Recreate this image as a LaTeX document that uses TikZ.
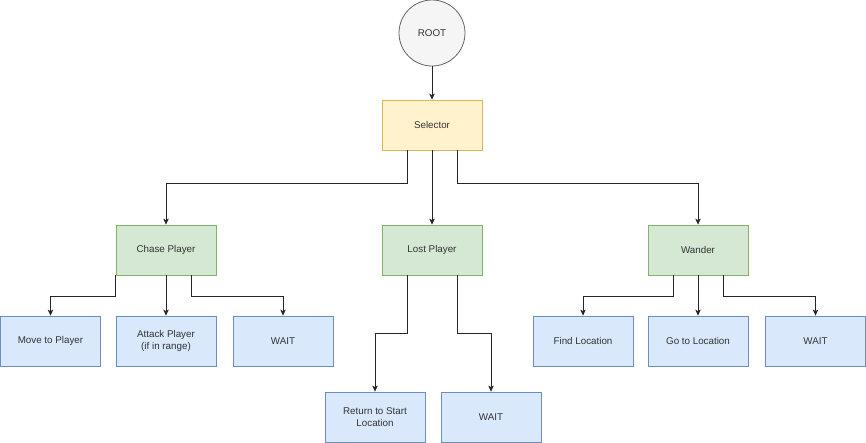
\documentclass[tikz,border=0pt]{standalone}
\usepackage{fontspec}
\setmainfont{Liberation Sans}
\usetikzlibrary{arrows.meta}

\definecolor{rootfill}{HTML}{F5F5F5}
\definecolor{rootline}{HTML}{666666}
\definecolor{selfill}{HTML}{FFF2CC}
\definecolor{selline}{HTML}{D6B656}
\definecolor{seqfill}{HTML}{D5E8D4}
\definecolor{seqline}{HTML}{82B366}
\definecolor{actfill}{HTML}{DAE8FC}
\definecolor{actline}{HTML}{6C8EBF}
\definecolor{labeltext}{HTML}{333333}

\tikzset{
  treebox/.style={draw, line width=0.8pt, minimum width=100pt, minimum height=50pt,
    inner sep=0pt, align=center, text=labeltext, font=\fontsize{9.8}{11.3}\selectfont},
  rootnode/.style={treebox, circle, minimum size=66pt, fill=rootfill, draw=rootline},
  selectorbox/.style={treebox, fill=selfill, draw=selline},
  sequencebox/.style={treebox, fill=seqfill, draw=seqline},
  actionbox/.style={treebox, fill=actfill, draw=actline},
  link/.style={draw=black!85, line width=0.8pt, -{Stealth[length=6pt,width=5.5pt,inset=1.5pt]}}
}

\begin{document}
\begin{tikzpicture}[x=1pt,y=-1pt]
\useasboundingbox (0,0) rectangle (866,442);

\node[rootnode] (root) at (432,33) {ROOT};
\node[selectorbox] (sel) at (432,125) {Selector};

\node[sequencebox] (chase) at (166,250) {Chase Player};
\node[sequencebox] (lost) at (432,250) {Lost Player};
\node[sequencebox] (wander) at (698,250) {Wander};

\node[actionbox] (move) at (50.5,341) {Move to Player};
\node[actionbox] (attack) at (166,341) {Attack Player\\(if in range)};
\node[actionbox] (waitA) at (283,341) {WAIT};

\node[actionbox] (return) at (375,417) {Return to Start\\Location};
\node[actionbox] (waitB) at (491,417) {WAIT};

\node[actionbox] (find) at (583,341) {Find Location};
\node[actionbox] (goto) at (698,341) {Go to Location};
\node[actionbox] (waitC) at (815.5,341) {WAIT};

\draw[link] (root) -- (sel);

\draw[link] ([xshift=-25pt]sel.south) -- ++(0,33) -| (chase.north);
\draw[link] (sel.south) -- (lost.north);
\draw[link] ([xshift=25pt]sel.south) -- ++(0,33) -| (wander.north);

\draw[link] (chase.south west) -- ++(0,21) -| (move.north);
\draw[link] (chase.south) -- (attack.north);
\draw[link] ([xshift=25pt]chase.south) -- ++(0,21) -| (waitA.north);

\draw[link] ([xshift=-25pt]lost.south) -- ++(0,58) -| (return.north);
\draw[link] ([xshift=25pt]lost.south) -- ++(0,58) -| (waitB.north);

\draw[link] ([xshift=-25pt]wander.south) -- ++(0,21) -| (find.north);
\draw[link] (wander.south) -- (goto.north);
\draw[link] ([xshift=25pt]wander.south) -- ++(0,21) -| (waitC.north);
\end{tikzpicture}
\end{document}
